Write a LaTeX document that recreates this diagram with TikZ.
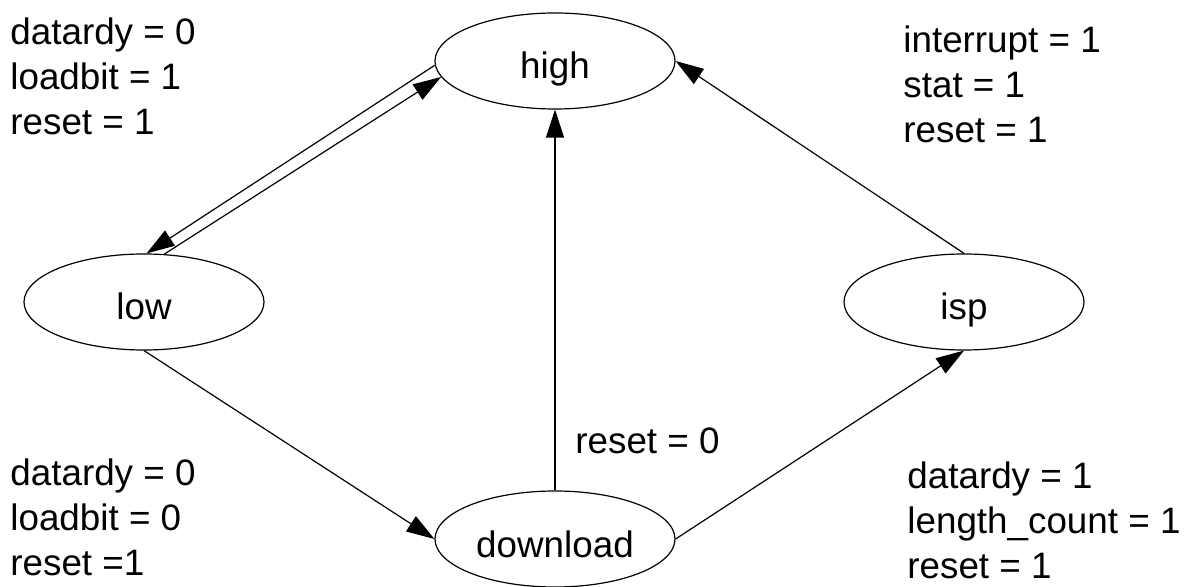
\documentclass[tikz,border=0pt]{standalone}
\usepackage{fontspec}
\setmainfont{Liberation Sans}
\usetikzlibrary{shapes.geometric,arrows.meta}
\begin{document}
\begin{tikzpicture}[x=0.5pt,y=-0.5pt,
  state/.style={draw,ellipse,line width=0.6pt,minimum width=120pt,minimum height=48pt,inner sep=0pt,
    text height=18pt,text depth=0pt,font=\fontsize{18.4}{22.5}\selectfont},
  cond/.style={inner sep=0pt,align=left,font=\fontsize{18.4}{22.5}\selectfont},
  arr/.style={line width=0.6pt,-{Triangle[length=14pt,width=9pt]}}]
\useasboundingbox (0,0) rectangle (1188,587);
% states
\node[state] (high) at (555,61) {high};
\node[state] (low) at (144,302) {low};
\node[state] (isp) at (964,302) {isp};
\node[state] (download) at (555,539) {download};
% transitions
\draw[arr] (high.182) -- (low.87);
\draw[arr] (low.67) -- (high.188);
\draw[arr] (low.south) -- (download.west);
\draw[arr] (download.north) -- (high.south);
\draw[arr] (download.east) -- (isp.south);
\draw[arr] (isp.north) -- (high.east);
% transition conditions
\node[cond,anchor=north west] (c1) at (10,17.5) {datardy = 0\\loadbit = 1\\reset = 1};
\node[cond,anchor=north west] (c2) at (903,25.5) {interrupt = 1\\stat = 1\\reset = 1};
\node[cond,anchor=base west] (c3) at (575,453) {reset = 0};
\node[cond,anchor=north west] (c4) at (10,458.5) {datardy = 0\\loadbit = 0\\reset =1};
\node[cond,anchor=north west] (c5) at (907,461.5) {datardy = 1\\length\_count = 1\\reset = 1};
\end{tikzpicture}
\end{document}
